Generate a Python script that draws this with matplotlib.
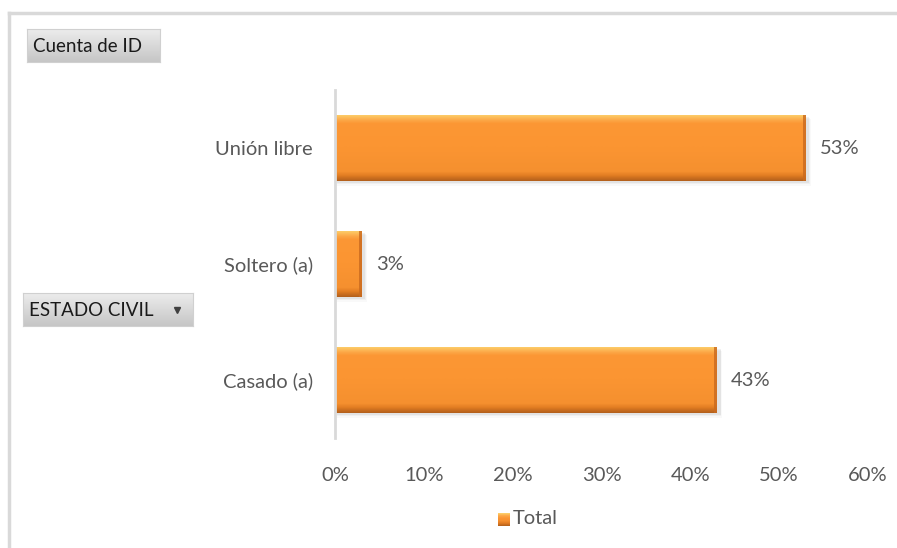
import numpy as np
import matplotlib
matplotlib.use("Agg")
import matplotlib.pyplot as plt
from matplotlib.patches import Rectangle
from matplotlib.colors import LinearSegmentedColormap
from matplotlib.ticker import PercentFormatter

# data
categories = ["Casado (a)", "Soltero (a)", "Unión libre"]
shares = [0.43, 0.03, 0.53]
series_name = "Total"
x_ticks = [0, 0.1, 0.2, 0.3, 0.4, 0.5, 0.6]

plt.rcParams["font.family"] = ["Lato", "DejaVu Sans"]
TEXT = "#595959"
FS = 14.5

fig = plt.figure(figsize=(8.97, 5.48), dpi=100)
W, H = 897, 548


def px(x0, y0, x1, y1):
    # pixel box (top-left origin) -> figure rect
    return [x0 / W, 1 - y1 / H, (x1 - x0) / W, (y1 - y0) / H]


# chart frame
fig.add_artist(plt.Line2D([9 / W, 1], [1 - 13 / H] * 2, color="#d9d9d9", lw=2.5))
fig.add_artist(plt.Line2D([9 / W] * 2, [0, 1 - 13 / H], color="#d9d9d9", lw=2.5))

ax = fig.add_axes(px(335, 90, 868, 438))
bar_h = 0.57
ypos = np.arange(len(categories))

# soft drop shadow under each bar
for y, v in zip(ypos, shares):
    for k, a in enumerate([0.10, 0.07, 0.04]):
        ax.add_patch(Rectangle((0.002, y - bar_h / 2 - 0.015 - k * 0.012), v + 0.002 + k * 0.0008,
                               bar_h, color="#7f7f7f", alpha=a, lw=0, zorder=1))

bars = ax.barh(ypos, shares, height=bar_h, color="#f7922e", edgecolor="none", zorder=2,
               label=series_name)

face = LinearSegmentedColormap.from_list(
    "bevel", ["#b3601c", "#e07b22", "#f5902f", "#fb9532", "#fca848", "#fdd36e"])
for b in bars:
    x0, y0 = b.get_x(), b.get_y()
    w, h = b.get_width(), b.get_height()
    grad = np.linspace(0, 1, 200).reshape(-1, 1)
    # vertical shading: dark lip at the bottom, bright lip at the top
    t = np.interp(grad, [0, 0.06, 0.14, 0.5, 0.86, 0.92, 1.0],
                  [0.0, 0.15, 0.4, 0.6, 0.62, 0.82, 1.0])
    im = ax.imshow(t, extent=(x0, x0 + w, y0, y0 + h), origin="lower", cmap=face,
                   vmin=0, vmax=1, aspect="auto", zorder=3)
    im.set_clip_path(b)
    # side bevels
    edge = min(0.0035, w * 0.12)
    ax.add_patch(Rectangle((x0 + w - edge, y0), edge, h, color="#c96a1f", alpha=0.8, lw=0, zorder=4))
    ax.add_patch(Rectangle((x0, y0), edge * 0.6, h, color="#fdb458", alpha=0.6, lw=0, zorder=4))
    ax.text(w + 0.016, b.get_y() + h / 2, f"{w:.0%}", va="center", ha="left",
            fontsize=FS, color=TEXT)

ax.set_xlim(0, 0.6)
ax.set_ylim(-0.5, len(categories) - 0.5)
ax.set_xticks(x_ticks)
ax.xaxis.set_major_formatter(PercentFormatter(1.0, decimals=0))
ax.set_yticks(ypos)
ax.set_yticklabels(categories)
ax.tick_params(axis="both", length=0, labelsize=FS, labelcolor=TEXT)
ax.tick_params(axis="y", pad=16)
ax.tick_params(axis="x", pad=21)
for s in ["top", "right", "bottom"]:
    ax.spines[s].set_visible(False)
ax.spines["left"].set_color("#d9d9d9")
ax.spines["left"].set_linewidth(2)
ax.spines["left"].set_zorder(5)

# legend
leg_ax = fig.add_axes(px(498, 513, 510, 526))
leg_ax.imshow(np.linspace(0, 1, 50).reshape(-1, 1), cmap=face.reversed(), aspect="auto",
              extent=(0, 1, 0, 1))
leg_ax.set_axis_off()
fig.text(513 / W, 1 - 519 / H, series_name, fontsize=FS, color=TEXT, va="center", ha="left")

# field buttons
grey = LinearSegmentedColormap.from_list("btn", ["#ececec", "#c6c6c6"])


def field_button(x0, y0, x1, y1, label, arrow=False):
    bax = fig.add_axes(px(x0, y0, x1, y1))
    bax.imshow(np.linspace(0, 1, 50).reshape(-1, 1), cmap=grey, aspect="auto",
               extent=(0, 1, 0, 1))
    bax.set_xlim(0, 1)
    bax.set_ylim(0, 1)
    bax.set_xticks([])
    bax.set_yticks([])
    for s in bax.spines.values():
        s.set_color("#d0d0d0")
    bax.text(6 / (x1 - x0), 0.48, label, fontsize=13.5, color="#1a1a1a", va="center", ha="left")
    if arrow:
        bax.plot([1 - 16 / (x1 - x0)], [0.5], marker="v", ms=5, color="#404040")


field_button(27, 29, 160, 62, "Cuenta de ID")
field_button(23, 293, 193, 326, "ESTADO CIVIL", arrow=True)

fig.savefig("out.png", dpi=100, facecolor="white")
